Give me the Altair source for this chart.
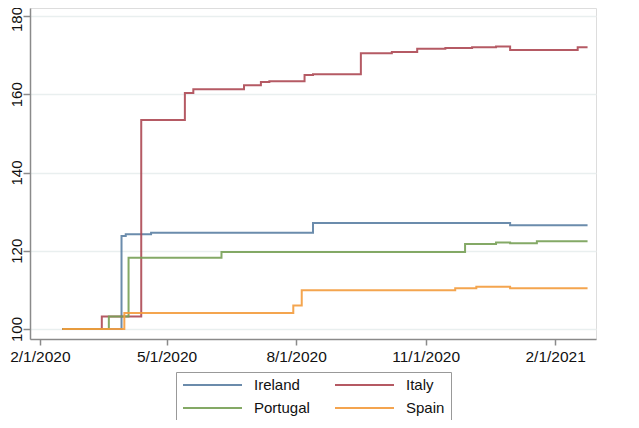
import altair as alt
import pandas as pd

countries = ["Ireland", "Italy", "Portugal", "Spain"]
colors = ["#5b7fa3", "#ad4853", "#77a055", "#f39b3c"]

ireland_dates = ["2020-02-17", "2020-03-30", "2020-04-02", "2020-04-20", "2020-08-13", "2020-12-31", "2021-02-24"]
ireland_values = [100, 123.8, 124.2, 124.6, 127.1, 126.5, 126.5]

italy_dates = ["2020-02-17", "2020-03-16", "2020-04-13", "2020-05-14", "2020-05-20", "2020-06-25",
               "2020-07-07", "2020-07-13", "2020-08-07", "2020-08-13", "2020-09-16", "2020-10-08",
               "2020-10-26", "2020-11-15", "2020-12-04", "2020-12-21", "2020-12-31", "2021-02-17",
               "2021-02-24"]
italy_values = [100, 103.2, 153.4, 160.3, 161.3, 162.3, 163.1, 163.3, 164.9, 165.1, 170.5, 170.8,
                171.6, 171.8, 172.0, 172.2, 171.3, 172.0, 172.0]

portugal_dates = ["2020-02-17", "2020-03-21", "2020-04-04", "2020-06-09", "2020-11-29", "2020-12-21",
                  "2020-12-31", "2021-01-19", "2021-02-24"]
portugal_values = [100, 103.2, 118.2, 119.7, 121.7, 122.1, 121.9, 122.4, 122.4]

spain_dates = ["2020-02-17", "2020-04-01", "2020-07-30", "2020-08-05", "2020-11-22", "2020-12-07",
               "2020-12-31", "2021-02-24"]
spain_values = [100, 104.1, 106.0, 109.9, 110.4, 110.8, 110.4, 110.4]

y_ticks = [100, 120, 140, 160, 180]
x_ticks = [(2020, 2, 1), (2020, 5, 1), (2020, 8, 1), (2020, 11, 1), (2021, 2, 1)]

rows = []
for name, ds, vs in [("Ireland", ireland_dates, ireland_values),
                     ("Italy", italy_dates, italy_values),
                     ("Portugal", portugal_dates, portugal_values),
                     ("Spain", spain_dates, spain_values)]:
    for d, v in zip(ds, vs):
        rows.append({"country": name, "date": d + "T00:00:00", "value": v})
df = pd.DataFrame(rows)

FONT = "Liberation Sans"
TXT = "#111111"

chart = alt.Chart(df).mark_line(interpolate="step-after", strokeWidth=2, opacity=0.9).encode(
    x=alt.X("date:T",
            scale=alt.Scale(domain=[alt.DateTime(year=2020, month=1, date=25),
                                    alt.DateTime(year=2021, month=3, date=2)], nice=False),
            axis=alt.Axis(values=[alt.DateTime(year=y, month=m, date=d) for y, m, d in x_ticks],
                          format="%-m/%-d/%Y", title=None, grid=False,
                          labelFontSize=15.5, labelFont=FONT, labelColor=TXT,
                          tickSize=6, tickColor="#8a8a8a", tickWidth=1.5,
                          domainColor="#8a8a8a", domainWidth=1.5, labelPadding=4)),
    y=alt.Y("value:Q",
            scale=alt.Scale(domain=[97.45, 182.04], nice=False, zero=False),
            axis=alt.Axis(values=y_ticks, title=None, grid=True,
                          gridColor="#e9efef", gridWidth=1.5,
                          labelAngle=270, labelAlign="center", labelBaseline="alphabetic",
                          labelOffset={"condition": {"test": "datum.value == 180", "value": 3},
                                       "value": 0},
                          labelFontSize=15, labelFont=FONT, labelColor=TXT,
                          tickSize=7, tickColor="#8a8a8a", tickWidth=1.5,
                          domainColor="#8a8a8a", domainWidth=1.5, labelPadding=2)),
    color=alt.Color("country:N",
                    scale=alt.Scale(domain=countries, range=colors),
                    legend=alt.Legend(title=None, orient="none", legendX=146, legendY=364,
                                      columns=2, direction="horizontal",
                                      symbolType="stroke", symbolSize=3481, clipHeight=14,
                                      symbolStrokeWidth=2, labelFontSize=15, labelFont=FONT,
                                      labelColor=TXT, labelOffset=11, columnPadding=24,
                                      rowPadding=8, padding=6, strokeColor="#999999",
                                      cornerRadius=0)),
    order=alt.Order("country:N"),
).properties(
    width=566, height=331,
    autosize=alt.AutoSizeParams(type="none"),
    padding={"left": 22, "top": 0, "right": 35, "bottom": 81},
).configure_view(stroke=None).configure(background="white")

chart.save("out.html", embed_options={"renderer": "svg", "actions": False})
